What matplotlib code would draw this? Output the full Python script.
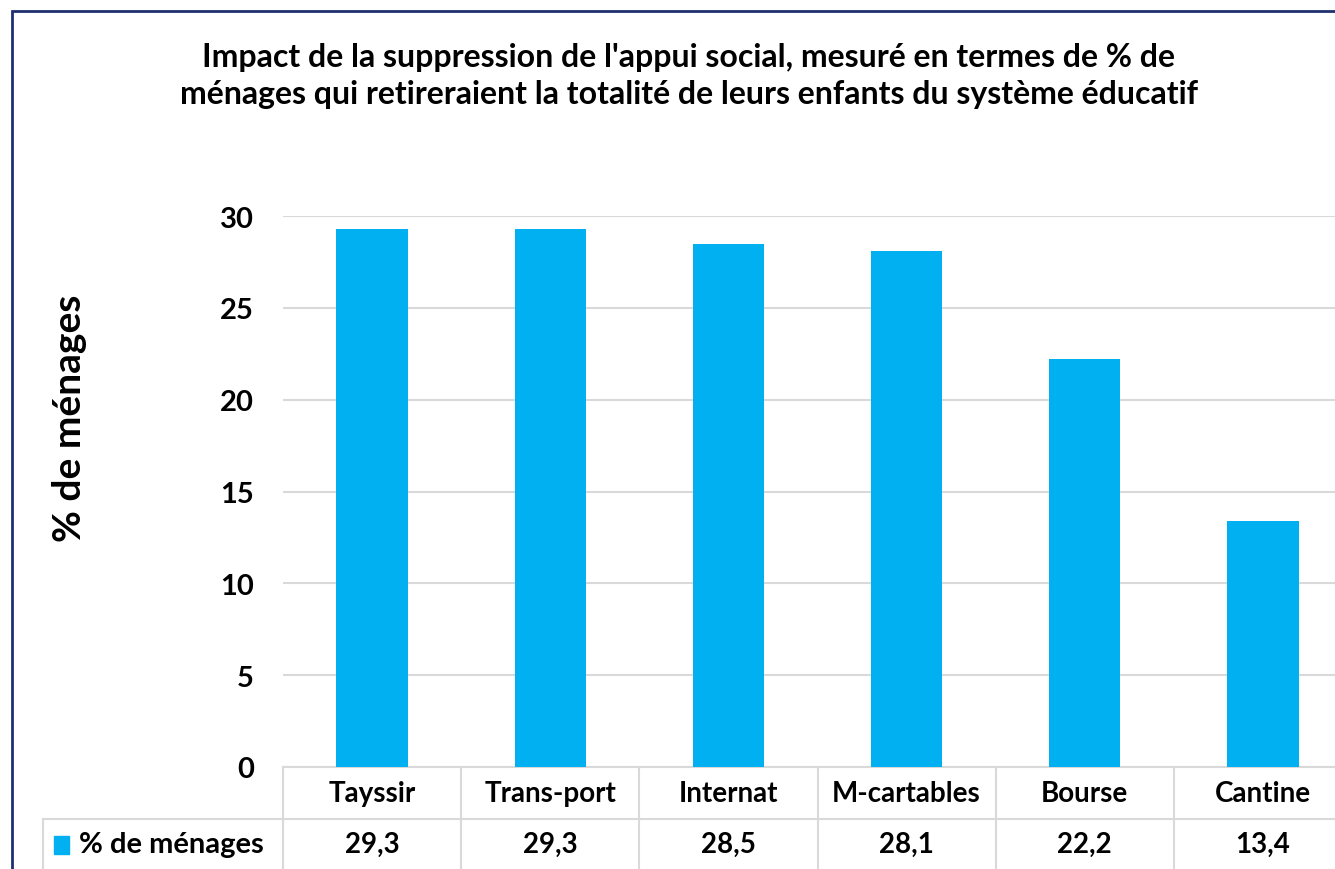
import matplotlib
matplotlib.use("Agg")
import matplotlib.pyplot as plt
from matplotlib.patches import Rectangle
import matplotlib.transforms as mtransforms

categories = ["Tayssir", "Trans-port", "Internat", "M-cartables", "Bourse", "Cantine"]
values = [29.3, 29.3, 28.5, 28.1, 22.2, 13.4]
value_labels = ["29,3", "29,3", "28,5", "28,1", "22,2", "13,4"]
series_name = "% de ménages"
title = ("Impact de la suppression de l'appui social, mesuré en termes de % de\n"
         "ménages qui retireraient la totalité de leurs enfants du système éducatif")

BAR = "#00B0F0"
GRID = "#D9D9D9"
FONT = "Lato"

W, H = 1335, 870
fig = plt.figure(figsize=(W / 100, H / 100), dpi=100)
fig.patch.set_facecolor("white")

# cadre bleu foncé (coupé à droite et en bas)
fig.patches.append(Rectangle((12 / W, -0.1), 1.2, 1 - 12 / H + 0.1, transform=fig.transFigure,
                             fill=False, edgecolor="#1F3070", linewidth=2))

# axes : la dernière catégorie déborde de l'image à droite
left, right, top, bottom = 283, 1352, 217, 768
ax = fig.add_axes([left / W, 1 - bottom / H, (right - left) / W, (bottom - top) / H])
ax.patch.set_alpha(0)

x = range(len(categories))
ax.bar(x, values, width=0.4, color=BAR, zorder=3)
ax.set_xlim(-0.5, len(categories) - 0.5)
ax.set_ylim(0, 30)
ax.set_yticks(range(0, 31, 5))
ax.yaxis.grid(True, color=GRID, linewidth=1.5, zorder=0)
ax.set_xticks([])
for s in ax.spines.values():
    s.set_visible(False)
ax.tick_params(axis="y", length=0, pad=21)
for lab in ax.get_yticklabels():
    lab.set_fontfamily(FONT)
    lab.set_fontweight("bold")
    lab.set_fontsize(21)

# titre d'axe remonté (centré sur la zone tracé + tableau)
ax.set_ylabel(series_name, fontfamily=FONT, fontweight="bold", fontsize=28)
ax.yaxis.set_label_coords(-0.183, (bottom - 418) / (bottom - top))

fig.text(0.516, 1 - 76 / H, title, ha="center", va="center", fontfamily=FONT,
         fontweight="bold", fontsize=23, linespacing=1.3)

# tableau de données sous l'axe
trans = mtransforms.blended_transform_factory(ax.transData, ax.transAxes)
ph = bottom - top
r1 = -(820 - bottom) / ph
r2 = -(875 - bottom) / ph
x_head = -0.5 - (left - 43) / ((right - left) / len(categories))
lc = dict(color=GRID, linewidth=1.5, transform=trans, clip_on=False)
n = len(categories)
ax.plot([-0.5, n - 0.5], [0, 0], **lc)
ax.plot([x_head, n - 0.5], [r1, r1], **lc)
ax.plot([x_head, x_head], [r1, r2], **lc)
for i in range(n + 1):
    ax.plot([i - 0.5, i - 0.5], [0, r2], **lc)

tk = dict(ha="center", va="center", fontfamily=FONT, fontweight="bold", fontsize=20,
          transform=trans, clip_on=False)
for i, (c, v) in enumerate(zip(categories, value_labels)):
    ax.text(i, r1 / 2, c, **tk)
    ax.text(i, (r1 + r2) / 2 + 0.005, v, **tk)

ax.add_patch(Rectangle((x_head + 0.06, (r1 + r2) / 2 - 0.013), 0.085, 0.032,
                       transform=trans, color=BAR, clip_on=False))
ax.text(x_head + 0.2, (r1 + r2) / 2 + 0.005, series_name, ha="left", va="center",
        fontfamily=FONT, fontweight="bold", fontsize=21, transform=trans, clip_on=False)

fig.savefig("out.png", dpi=100, facecolor="white")
